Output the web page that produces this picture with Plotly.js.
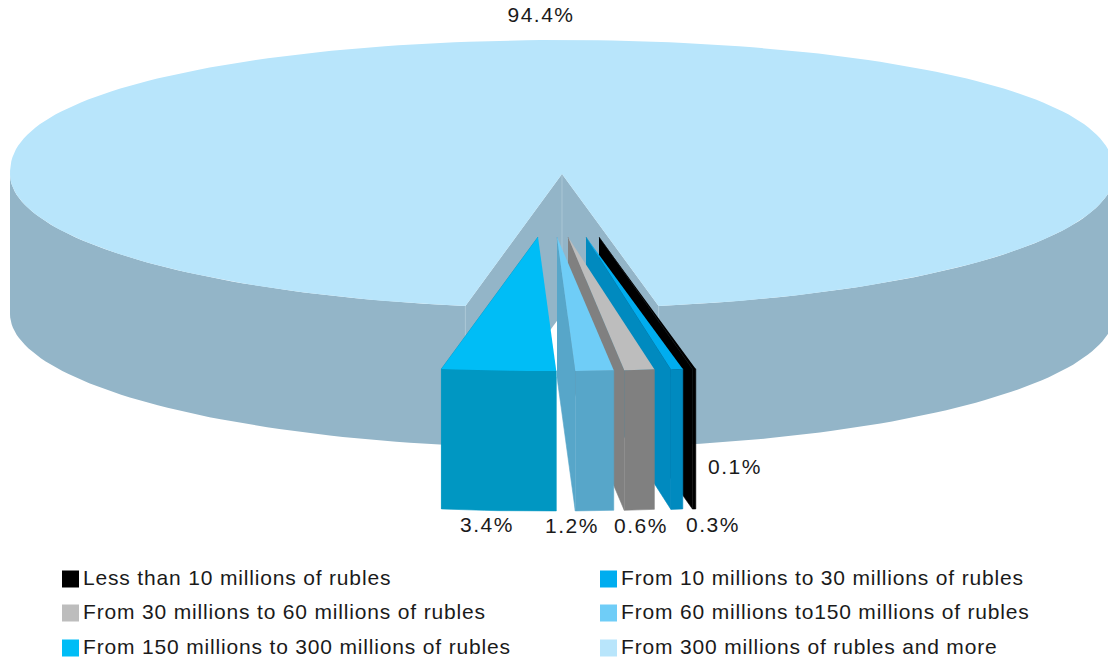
<!DOCTYPE html>
<html>
<head>
<meta charset="utf-8">
<script src="https://cdn.plot.ly/plotly-3.0.1.min.js"></script>
<style>
html,body{margin:0;padding:0;background:#fff}
#chart{width:1108px;height:661px}
#chart .textpoint text{letter-spacing:1.5px}
#chart .scatterlayer .trace:last-child .textpoint text{letter-spacing:.83px}
</style>
</head>
<body>
<div id="chart"></div>
<script>
// Data
const categories = ["Less than 10 millions of rubles","From 10 millions to 30 millions of rubles","From 30 millions to 60 millions of rubles","From 60 millions to150 millions of rubles","From 150 millions to 300 millions of rubles","From 300 millions of rubles and more"];
const shares = [0.1, 0.3, 0.6, 1.2, 3.4, 94.4];
const shareLabels = ["0.1%", "0.3%", "0.6%", "1.2%", "3.4%", "94.4%"];
// Drawn angular span of each exploded wedge, degrees from the front of the pie
const wedgeStart = [9.75, 8.85, 5.85, 1.9, -10.08];
const wedgeEnd = [10.1, 10.1, 9.0, 5.9, 1.9];
const explodeX = [37, 24, 6, -5, -24];
// Styling
const topColors = ["#000000", "#00adef", "#bdbdbd", "#6fcdf7", "#00bdf6", "#b8e5fb"];
const sideColors = ["#000000", "#008abf", "#808080", "#57a6c9", "#0097c2", "#93b5c8"];
const swatchColors = ["#000000", "#00adef", "#bdbdbd", "#6fcdf7", "#00bdf6", "#b8e5fb"];

const cx = 562, cy = 174, rx = 552, ry = 134, depth = 140, explodeY = 63, rimPower = 0.88;
const rad = d => d * Math.PI / 180;
function arc(ox, oy, a0, a1, dz) {
  const n = Math.max(2, Math.ceil(Math.abs(a1 - a0) / 1.5));
  const xs = [], ys = [];
  for (let i = 0; i <= n; i++) {
    const a = rad(a0 + (a1 - a0) * i / n);
    const c = Math.cos(a);
    xs.push(ox + rx * Math.sin(a));
    ys.push(oy + ry * (c < 0 ? -Math.pow(-c, rimPower) : c) + dz);
  }
  return [xs, ys];
}
function poly(xs, ys, color, w) {
  return {type: "scatter", mode: "lines", x: xs, y: ys, fill: "toself", fillcolor: color,
          line: {width: w || 0, color: color}, hoverinfo: "skip", showlegend: false};
}
const traces = [];
const halfGap = (100 - shares[5]) / 2 * 3.6;

// Outer wall of the large slice, left and right of the gap
[[-90, -halfGap], [halfGap, 90]].forEach(([a0, a1]) => {
  const [tx, ty] = arc(cx, cy, a0, a1, 0);
  const [bx, by] = arc(cx, cy, a1, a0, depth);
  traces.push(poly(tx.concat(bx), ty.concat(by), sideColors[5]));
});
// Inner walls of the gap
[-halfGap, halfGap].forEach(a => {
  const [ex, ey] = arc(cx, cy, a, a, 0);
  traces.push(poly([cx, ex[0], ex[0], cx], [cy, ey[0], ey[0] + depth, cy + depth], sideColors[5]));
  traces.push({type: "scatter", mode: "lines", x: [ex[0], ex[0]], y: [ey[0], ey[0] + depth],
               line: {width: 1, color: "#a9c6d5"}, hoverinfo: "skip", showlegend: false});
});
traces.push({type: "scatter", mode: "lines", x: [cx, cx], y: [cy, cy + depth],
             line: {width: 1, color: "#a9c6d5"}, hoverinfo: "skip", showlegend: false});
// Top of the large slice
{
  const [tx, ty] = arc(cx, cy, halfGap, 360 - halfGap, 0);
  traces.push(poly([cx].concat(tx), [cy].concat(ty), topColors[5]));
}
// Exploded wedges, back to front
for (let i = 0; i < wedgeStart.length; i++) {
  const ox = cx + explodeX[i], oy = cy + explodeY;
  const a0 = wedgeStart[i], a1 = wedgeEnd[i];
  const [tx, ty] = arc(ox, oy, a0, a1, 0);
  const [bx, by] = arc(ox, oy, a1, a0, depth);
  // left cut face
  traces.push(poly([ox, tx[0], tx[0], ox], [oy, ty[0], ty[0] + depth, oy + depth], sideColors[i], 0.6));
  // front face
  traces.push(poly(tx.concat(bx), ty.concat(by), sideColors[i], 0.6));
  // top face
  traces.push(poly([ox].concat(tx), [oy].concat(ty), topColors[i]));
}
// Value labels
const labelX = [735, 713, 641, 572, 487, 541];
const labelY = [469, 527, 528, 528, 527, 17];
traces.push({type: "scatter", mode: "text", x: labelX, y: labelY, text: shareLabels,
             textposition: "middle center", textfont: {family: "Liberation Sans", size: 21, color: "#1a1a1a"},
             hoverinfo: "skip", showlegend: false, cliponaxis: false});
// Legend
const legendX = [70.5, 608.5, 70.5, 608.5, 70.5, 608.5];
const legendY = [579, 579, 613, 613, 648, 648];
traces.push({type: "scatter", mode: "markers", x: legendX, y: legendY,
             marker: {symbol: "square", size: 17, color: swatchColors, line: {width: 0}},
             hoverinfo: "skip", showlegend: false});
traces.push({type: "scatter", mode: "text", x: legendX.map(v => v + 12.5), y: legendY.map(v => v + 0.5), text: categories,
             textposition: "middle right", textfont: {family: "Liberation Sans", size: 21, color: "#1a1a1a"},
             hoverinfo: "skip", showlegend: false, cliponaxis: false});

const layout = {
  width: 1108, height: 661, margin: {l: 0, r: 0, t: 0, b: 0},
  paper_bgcolor: "#ffffff", plot_bgcolor: "#ffffff", showlegend: false,
  xaxis: {range: [0, 1108], visible: false, fixedrange: true},
  yaxis: {range: [661, 0], visible: false, fixedrange: true}
};
Plotly.newPlot("chart", traces, layout, {displayModeBar: false, staticPlot: true});
</script>
</body>
</html>
